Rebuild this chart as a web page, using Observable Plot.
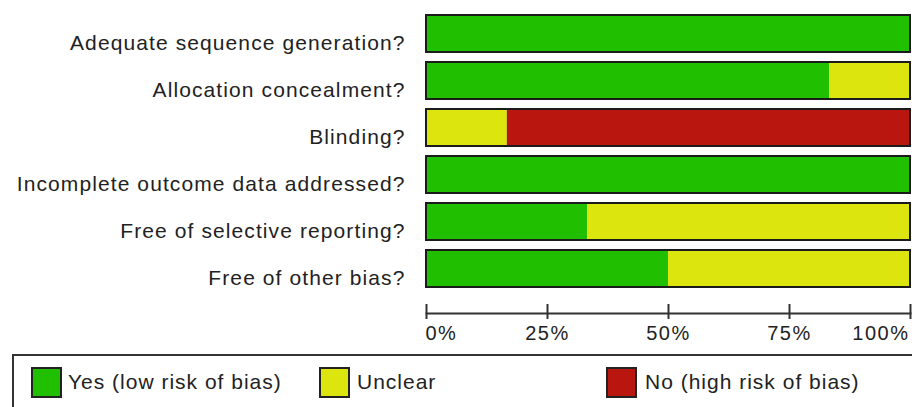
<!DOCTYPE html>
<html>
<head>
<meta charset="utf-8">
<script src="https://cdn.jsdelivr.net/npm/d3@7"></script>
<script src="https://cdn.jsdelivr.net/npm/@observablehq/plot@0.6"></script>
<style>
  html, body { margin: 0; padding: 0; background: #fff; width: 912px; height: 407px; overflow: hidden; }
  body { font-family: "Liberation Sans", Arial, sans-serif; color: #222; position: relative; }
  #chart svg { display: block; }
  #chart [aria-label="y-axis tick label"] text { letter-spacing: 1.1px; }
  #chart .xlab text { letter-spacing: 1.5px; }
  .legend { position: absolute; left: 12px; top: 354px; width: 1000px; height: 100px; border: 2px solid #333; box-sizing: border-box; }
  .item { position: absolute; top: 11px; height: 31px; display: flex; align-items: center; }
  .sw { width: 31px; height: 31px; box-sizing: border-box; border: 2px solid #222; }
  .lt { font-size: 21px; letter-spacing: 1px; color: #222; position: absolute; white-space: nowrap; top: 3px; }
  .i0 { left: 17px; } .i1 { left: 305px; } .i2 { left: 592px; }
  .lt { left: 37px; }
  .i1 .lt { left: 38px; } .i2 .lt { left: 39px; }
</style>
</head>
<body>
<div id="chart"></div>
<div class="legend" id="legend"></div>
<script>
// ---- data ----
const domains = [
  "Adequate sequence generation?",
  "Allocation concealment?",
  "Blinding?",
  "Incomplete outcome data addressed?",
  "Free of selective reporting?",
  "Free of other bias?"
];
const judgments = ["Yes (low risk of bias)", "Unclear", "No (high risk of bias)"];
const colors = ["#20c000", "#dde50f", "#b8160f"];
const yesPct     = [100, 83.3,  0,   100, 33.3, 50];
const unclearPct = [0,   16.7, 16.7, 0,   66.7, 50];
const noPct      = [0,   0,    83.3, 0,   0,    0];
const xTicks = [0, 25, 50, 75, 100];

const rows = domains.flatMap((d, i) =>
  [yesPct[i], unclearPct[i], noPct[i]].map((v, k) => ({domain: d, judgment: judgments[k], pct: v}))
).filter(r => r.pct > 0);

const fmt = d => d + "%";
const font = '"Liberation Sans", Arial, sans-serif';

const chart = Plot.plot({
  width: 912,
  height: 354,
  marginLeft: 426,
  marginRight: 2,
  marginTop: 0,
  marginBottom: 41,
  style: {fontFamily: font, fontSize: "21px", color: "#222", background: "#fff"},
  x: {domain: [0, 100], axis: null},
  y: {domain: domains, range: [14, 287.3], paddingInner: 0.216, paddingOuter: 0, axis: null},
  color: {domain: judgments, range: colors},
  marks: [
    Plot.barX(rows, {y: "domain", x: "pct", fill: "judgment"}),
    Plot.barX(rows, Plot.groupY({x: "sum"}, {y: "domain", x: "pct", fill: "none", stroke: "#1b1b1b", strokeWidth: 2})),
    Plot.axisY({tickSize: 0, tickPadding: 21, fontSize: 21, dy: 9, fill: "#222", label: null}),
    Plot.frame({anchor: "bottom", stroke: "#333", strokeWidth: 2}),
    Plot.tickX(xTicks, {x: d => d, insetTop: 304, insetBottom: -6, stroke: "#333", strokeWidth: 2}),
    Plot.text(xTicks.filter(d => d === 0), {x: d => d, text: fmt, frameAnchor: "bottom", lineAnchor: "top", dy: 12, dx: -1, textAnchor: "start", fontSize: 20, fill: "#222", className: "xlab"}),
    Plot.text(xTicks.filter(d => d > 0 && d < 100), {x: d => d, text: fmt, frameAnchor: "bottom", lineAnchor: "top", dy: 12, textAnchor: "middle", fontSize: 20, fill: "#222", className: "xlab"}),
    Plot.text(xTicks.filter(d => d === 100), {x: d => d, text: fmt, frameAnchor: "bottom", lineAnchor: "top", dy: 12, dx: -1, textAnchor: "end", fontSize: 20, fill: "#222", className: "xlab"})
  ]
});
document.getElementById("chart").appendChild(chart);

// legend
const legend = document.getElementById("legend");
judgments.forEach((j, k) => {
  const item = document.createElement("div");
  item.className = "item i" + k;
  const sw = document.createElement("div");
  sw.className = "sw";
  sw.style.background = colors[k];
  const lt = document.createElement("span");
  lt.className = "lt";
  lt.textContent = j;
  item.appendChild(sw);
  item.appendChild(lt);
  legend.appendChild(item);
});
</script>
</body>
</html>
